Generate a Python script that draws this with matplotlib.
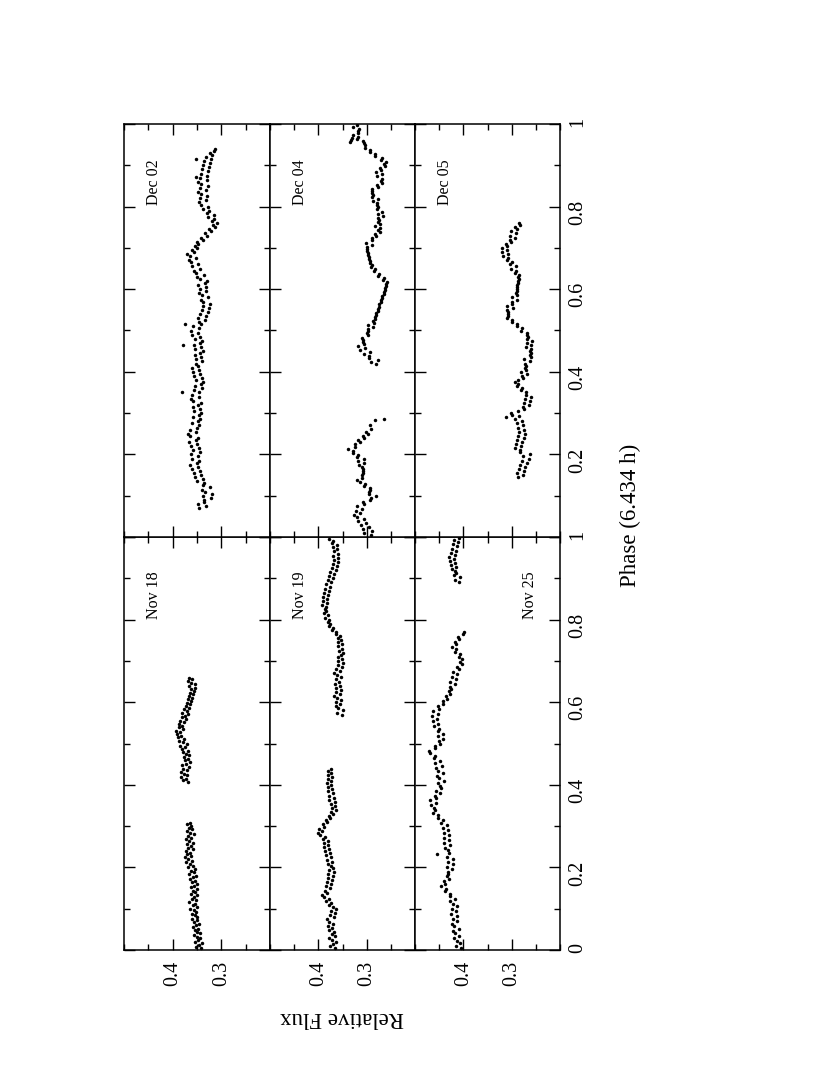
import matplotlib
matplotlib.use("Agg")
import matplotlib.pyplot as plt
from matplotlib.ticker import FixedLocator, MultipleLocator

plt.rcParams['font.family'] = ['Liberation Serif', 'DejaVu Serif']

# (phase, relative flux)
nov18 = [(0.004, .341), (0.008, .352), (0.012, .345), (0.016, .339), (0.020, .355), (0.024, .348), (0.028, .343),
         (0.032, .351), (0.036, .357), (0.040, .344), (0.044, .350), (0.048, .355), (0.052, .347), (0.056, .358),
         (0.060, .352), (0.064, .345), (0.068, .356), (0.072, .351), (0.076, .360), (0.080, .349), (0.084, .354),
         (0.088, .361), (0.092, .352), (0.096, .357), (0.100, .364), (0.104, .350), (0.108, .359), (0.112, .355),
         (0.116, .366), (0.120, .353), (0.124, .360), (0.128, .356), (0.132, .349), (0.136, .362), (0.140, .354),
         (0.144, .358), (0.148, .351), (0.152, .363), (0.156, .357), (0.160, .350), (0.164, .361), (0.168, .355),
         (0.172, .365), (0.176, .358), (0.180, .352), (0.184, .367), (0.188, .356), (0.192, .362), (0.196, .354),
         (0.200, .369), (0.204, .358), (0.208, .364), (0.212, .372), (0.216, .361), (0.220, .368), (0.224, .375),
         (0.228, .362), (0.232, .370), (0.236, .364), (0.240, .373), (0.244, .359), (0.248, .368), (0.252, .363),
         (0.256, .371), (0.260, .358), (0.264, .366), (0.268, .373), (0.272, .362), (0.276, .369), (0.280, .357),
         (0.284, .365), (0.288, .371), (0.292, .360), (0.296, .367), (0.300, .362), (0.304, .370), (0.308, .364),
         (0.407, .368), (0.411, .379), (0.415, .372), (0.419, .382), (0.423, .370), (0.427, .376), (0.431, .383),
         (0.435, .371), (0.439, .378), (0.443, .367), (0.447, .380), (0.451, .373), (0.455, .365), (0.459, .374),
         (0.463, .369), (0.467, .377), (0.471, .366), (0.475, .373), (0.479, .379), (0.483, .368), (0.487, .381),
         (0.491, .374), (0.495, .384), (0.499, .371), (0.503, .379), (0.507, .386), (0.511, .377), (0.515, .389),
         (0.519, .382), (0.523, .391), (0.527, .385), (0.531, .393), (0.535, .379), (0.539, .388), (0.543, .381),
         (0.547, .386), (0.551, .376), (0.555, .384), (0.559, .372), (0.563, .381), (0.567, .375), (0.571, .369),
         (0.575, .380), (0.579, .370), (0.583, .377), (0.587, .366), (0.591, .373), (0.595, .364), (0.599, .371),
         (0.603, .362), (0.607, .369), (0.611, .360), (0.615, .367), (0.619, .358), (0.623, .365), (0.627, .356),
         (0.631, .363), (0.635, .355), (0.639, .366), (0.643, .354), (0.647, .362), (0.651, .368), (0.655, .360),
         (0.659, .366)]

nov19 = [(0.004, .365), (0.009, .375), (0.014, .369), (0.019, .363), (0.024, .372), (0.029, .377), (0.034, .366),
         (0.039, .371), (0.044, .368), (0.049, .378), (0.054, .372), (0.059, .381), (0.064, .370), (0.069, .377),
         (0.074, .383), (0.079, .368), (0.084, .375), (0.089, .366), (0.094, .373), (0.099, .364), (0.104, .370),
         (0.109, .377), (0.114, .373), (0.119, .384), (0.124, .378), (0.129, .388), (0.134, .392), (0.139, .383),
         (0.144, .387), (0.149, .376), (0.154, .385), (0.159, .374), (0.164, .382), (0.169, .372), (0.174, .380),
         (0.179, .370), (0.184, .379), (0.189, .368), (0.194, .377), (0.199, .369), (0.204, .374), (0.209, .381),
         (0.214, .371), (0.219, .383), (0.224, .374), (0.229, .385), (0.234, .376), (0.239, .386), (0.244, .377),
         (0.249, .388), (0.254, .379), (0.259, .389), (0.264, .380), (0.269, .390), (0.274, .386), (0.279, .397),
         (0.284, .400), (0.289, .392), (0.294, .399), (0.299, .389), (0.304, .391), (0.309, .382), (0.314, .385),
         (0.319, .376), (0.324, .378), (0.329, .369), (0.334, .373), (0.339, .364), (0.344, .372), (0.349, .365),
         (0.354, .374), (0.359, .366), (0.364, .377), (0.369, .368), (0.374, .378), (0.379, .370), (0.384, .380),
         (0.389, .371), (0.394, .381), (0.399, .373), (0.404, .382), (0.409, .374), (0.414, .381), (0.419, .372),
         (0.424, .380), (0.429, .373), (0.434, .381), (0.439, .374),
         (0.570, .352), (0.575, .361), (0.580, .350), (0.585, .359), (0.590, .364), (0.595, .355), (0.600, .363),
         (0.605, .353), (0.610, .362), (0.615, .367), (0.620, .356), (0.625, .364), (0.630, .354), (0.635, .363),
         (0.640, .356), (0.645, .366), (0.650, .357), (0.655, .364), (0.660, .353), (0.665, .362), (0.670, .367),
         (0.675, .356), (0.680, .363), (0.685, .352), (0.690, .360), (0.695, .350), (0.700, .359), (0.705, .351),
         (0.710, .360), (0.715, .353), (0.720, .349), (0.725, .358), (0.730, .351), (0.735, .359), (0.740, .352),
         (0.745, .360), (0.750, .353), (0.755, .359), (0.760, .356), (0.765, .364), (0.770, .363), (0.775, .371),
         (0.780, .369), (0.785, .378), (0.790, .375), (0.795, .379), (0.800, .377), (0.805, .386), (0.810, .379),
         (0.815, .388), (0.820, .385), (0.825, .387), (0.830, .384), (0.835, .393), (0.840, .383), (0.845, .391),
         (0.850, .382), (0.855, .390), (0.860, .380), (0.865, .388), (0.870, .378), (0.875, .386), (0.880, .376),
         (0.885, .384), (0.890, .373), (0.895, .381), (0.900, .370), (0.905, .378), (0.910, .367), (0.915, .375),
         (0.920, .364), (0.925, .372), (0.930, .362), (0.935, .370), (0.940, .359), (0.945, .368), (0.950, .360),
         (0.955, .369), (0.960, .359), (0.965, .368), (0.970, .361), (0.975, .370), (0.980, .362), (0.985, .372),
         (0.990, .369), (0.995, .377)]

nov25 = [(0.004, .405), (0.010, .416), (0.016, .406), (0.022, .414), (0.028, .419), (0.034, .408), (0.040, .417),
         (0.046, .421), (0.052, .410), (0.058, .419), (0.064, .424), (0.070, .413), (0.076, .422), (0.082, .414),
         (0.088, .425), (0.094, .415), (0.100, .423), (0.106, .413), (0.112, .422), (0.118, .427), (0.124, .418),
         (0.130, .428), (0.136, .427), (0.142, .438), (0.148, .436), (0.154, .446), (0.160, .438), (0.166, .440),
         (0.172, .430), (0.178, .433), (0.184, .431), (0.190, .432), (0.196, .423), (0.202, .433), (0.208, .421),
         (0.214, .431), (0.220, .422), (0.226, .433), (0.232, .455), (0.236, .429), (0.242, .431), (0.248, .437),
         (0.254, .427), (0.260, .439), (0.266, .429), (0.272, .440), (0.278, .430), (0.284, .441), (0.290, .432),
         (0.296, .443), (0.302, .434), (0.308, .446), (0.314, .443), (0.320, .453), (0.326, .452), (0.332, .462),
         (0.338, .459), (0.344, .461), (0.350, .466), (0.356, .457), (0.362, .468), (0.368, .456), (0.374, .458),
         (0.380, .448), (0.386, .457), (0.392, .446), (0.398, .449), (0.404, .453), (0.410, .441), (0.416, .450),
         (0.422, .454), (0.428, .443), (0.434, .453), (0.440, .456), (0.446, .445), (0.452, .458), (0.458, .448),
         (0.464, .461), (0.470, .458), (0.476, .468), (0.482, .471), (0.488, .459), (0.494, .459), (0.500, .449),
         (0.506, .451), (0.512, .442), (0.518, .452), (0.524, .443), (0.530, .453), (0.536, .451), (0.542, .461),
         (0.548, .452), (0.554, .463), (0.560, .454), (0.566, .464), (0.572, .453), (0.578, .462), (0.584, .451),
         (0.590, .453), (0.596, .442), (0.602, .443), (0.608, .433), (0.614, .436), (0.620, .427), (0.626, .430),
         (0.632, .426), (0.638, .427), (0.644, .418), (0.650, .427), (0.656, .416), (0.662, .424), (0.668, .413),
         (0.674, .421), (0.680, .410), (0.686, .413), (0.692, .403), (0.698, .407), (0.704, .402), (0.710, .410),
         (0.716, .407), (0.722, .418), (0.728, .416), (0.734, .424), (0.740, .415), (0.746, .417), (0.752, .409),
         (0.758, .412), (0.764, .400), (0.770, .398),
         (0.892, .408), (0.897, .417), (0.902, .406), (0.907, .419), (0.912, .416), (0.917, .418), (0.922, .424),
         (0.927, .415), (0.932, .426), (0.937, .417), (0.942, .428), (0.947, .419), (0.952, .429), (0.957, .417),
         (0.962, .426), (0.967, .415), (0.972, .424), (0.977, .413), (0.982, .422), (0.987, .411), (0.992, .420),
         (0.997, .410)]

dec02 = [(0.070, .345), (0.075, .332), (0.080, .347), (0.085, .335), (0.090, .336), (0.095, .322), (0.100, .337),
         (0.105, .320), (0.110, .334), (0.115, .340), (0.120, .323), (0.125, .338), (0.130, .335), (0.135, .349),
         (0.140, .337), (0.145, .354), (0.150, .342), (0.155, .357), (0.160, .344), (0.165, .360), (0.170, .347),
         (0.175, .364), (0.180, .350), (0.185, .345), (0.190, .361), (0.195, .348), (0.200, .363), (0.205, .343),
         (0.210, .359), (0.215, .346), (0.220, .362), (0.225, .349), (0.230, .366), (0.235, .352), (0.240, .347),
         (0.245, .364), (0.250, .368), (0.255, .353), (0.260, .365), (0.265, .350), (0.270, .345), (0.275, .361),
         (0.280, .348), (0.285, .343), (0.290, .359), (0.295, .346), (0.300, .341), (0.305, .357), (0.310, .344),
         (0.315, .359), (0.320, .347), (0.325, .342), (0.330, .358), (0.335, .363), (0.340, .346), (0.345, .360),
         (0.350, .380), (0.352, .345), (0.355, .357), (0.360, .340), (0.365, .354), (0.370, .342), (0.375, .337),
         (0.380, .352), (0.385, .340), (0.390, .356), (0.395, .343), (0.400, .359), (0.405, .346), (0.410, .361),
         (0.415, .348), (0.420, .352), (0.425, .339), (0.430, .353), (0.435, .341), (0.440, .355), (0.445, .343),
         (0.450, .338), (0.455, .354), (0.460, .342), (0.464, .378), (0.465, .357), (0.470, .344), (0.475, .340),
         (0.480, .355), (0.485, .343), (0.490, .360), (0.495, .348), (0.500, .362), (0.505, .345), (0.510, .358),
         (0.516, .375), (0.515, .342), (0.520, .346), (0.525, .334), (0.530, .347), (0.535, .331), (0.540, .343),
         (0.545, .327), (0.550, .340), (0.555, .326), (0.560, .338), (0.565, .324), (0.570, .337), (0.575, .341),
         (0.580, .327), (0.585, .340), (0.590, .345), (0.595, .331), (0.600, .344), (0.605, .332), (0.610, .347),
         (0.615, .334), (0.620, .330), (0.625, .344), (0.630, .349), (0.635, .335), (0.640, .352), (0.645, .356),
         (0.650, .343), (0.655, .360), (0.660, .347), (0.665, .363), (0.670, .367), (0.675, .352), (0.680, .365),
         (0.685, .370), (0.690, .356), (0.695, .361), (0.700, .350), (0.705, .354), (0.710, .348), (0.715, .351),
         (0.720, .338), (0.725, .342), (0.730, .329), (0.735, .333), (0.740, .322), (0.745, .326), (0.750, .314),
         (0.755, .318), (0.760, .308), (0.765, .319), (0.770, .315), (0.775, .327), (0.780, .316), (0.785, .330),
         (0.790, .326), (0.795, .338), (0.800, .327), (0.805, .341), (0.810, .346), (0.815, .331), (0.820, .343),
         (0.825, .329), (0.830, .342), (0.835, .348), (0.840, .332), (0.845, .344), (0.850, .328), (0.855, .341),
         (0.860, .347), (0.865, .330), (0.870, .343), (0.872, .352), (0.875, .329), (0.880, .341), (0.885, .327),
         (0.890, .339), (0.895, .325), (0.900, .337), (0.905, .323), (0.910, .335), (0.915, .352), (0.915, .321),
         (0.920, .332), (0.925, .319), (0.930, .324), (0.935, .315), (0.940, .312)]

dec04 = [(0.004, .292), (0.009, .305), (0.014, .290), (0.019, .308), (0.024, .296), (0.029, .312), (0.034, .301),
         (0.039, .317), (0.044, .305), (0.049, .321), (0.054, .326), (0.059, .313), (0.064, .323), (0.069, .309),
         (0.074, .320), (0.079, .306), (0.084, .307), (0.089, .293), (0.094, .291), (0.099, .281), (0.104, .295),
         (0.109, .295), (0.114, .294), (0.119, .293), (0.124, .305), (0.129, .303), (0.134, .314), (0.139, .319),
         (0.144, .309), (0.149, .310), (0.154, .308), (0.159, .308), (0.164, .307), (0.169, .309), (0.174, .316),
         (0.179, .305), (0.184, .318), (0.189, .306), (0.194, .319), (0.199, .317), (0.204, .329), (0.209, .328),
         (0.214, .338), (0.219, .325), (0.224, .325), (0.229, .314), (0.234, .317), (0.239, .306), (0.244, .308),
         (0.249, .298), (0.254, .301), (0.262, .291), (0.270, .293), (0.283, .283), (0.285, .264),
         (0.418, .280), (0.423, .291), (0.428, .276), (0.433, .295), (0.438, .295), (0.443, .306), (0.448, .293),
         (0.453, .313), (0.458, .303), (0.463, .317), (0.468, .306), (0.473, .307), (0.478, .308), (0.483, .310),
         (0.488, .298), (0.493, .300), (0.498, .298), (0.503, .297), (0.508, .287), (0.513, .297), (0.518, .284),
         (0.523, .286), (0.528, .283), (0.533, .283), (0.538, .280), (0.543, .280), (0.548, .277), (0.553, .277),
         (0.558, .274), (0.563, .274), (0.568, .271), (0.573, .271), (0.578, .268), (0.583, .268), (0.588, .265),
         (0.593, .265), (0.598, .262), (0.603, .262), (0.608, .259), (0.613, .260), (0.618, .258), (0.623, .267),
         (0.628, .265), (0.633, .276), (0.638, .274), (0.643, .284), (0.648, .282), (0.653, .292), (0.658, .290),
         (0.663, .293), (0.668, .293), (0.673, .296), (0.678, .296), (0.683, .298), (0.688, .297), (0.693, .299),
         (0.698, .299), (0.703, .300), (0.708, .290), (0.713, .301), (0.718, .288), (0.723, .290), (0.728, .280),
         (0.733, .282), (0.738, .273), (0.743, .276), (0.748, .273), (0.753, .283), (0.758, .273), (0.763, .276),
         (0.768, .274), (0.773, .276), (0.778, .267), (0.783, .277), (0.788, .268), (0.793, .278), (0.798, .276),
         (0.803, .279), (0.808, .278), (0.813, .287), (0.818, .277), (0.823, .289), (0.828, .287), (0.833, .290),
         (0.838, .288), (0.843, .288), (0.848, .277), (0.853, .278), (0.858, .268), (0.863, .270), (0.868, .268),
         (0.873, .278), (0.878, .269), (0.883, .280), (0.888, .270), (0.893, .272), (0.898, .262), (0.903, .265),
         (0.908, .261), (0.913, .271), (0.918, .269), (0.923, .282), (0.928, .283), (0.933, .294), (0.938, .293),
         (0.943, .304), (0.948, .304), (0.953, .306), (0.957, .335), (0.958, .307), (0.962, .333), (0.963, .319),
         (0.965, .331), (0.968, .318), (0.973, .329), (0.978, .317), (0.983, .318), (0.988, .316), (0.993, .328),
         (0.998, .319)]

dec05 = [(0.145, .287), (0.150, .277), (0.155, .289), (0.160, .275), (0.165, .285), (0.170, .272), (0.175, .282),
         (0.180, .269), (0.185, .279), (0.190, .265), (0.195, .276), (0.200, .263), (0.205, .282), (0.210, .282),
         (0.215, .293), (0.220, .280), (0.225, .291), (0.230, .278), (0.235, .289), (0.240, .275), (0.245, .286),
         (0.250, .273), (0.255, .284), (0.260, .274), (0.265, .287), (0.270, .277), (0.275, .289), (0.280, .279),
         (0.285, .293), (0.290, .312), (0.292, .284), (0.295, .299), (0.300, .302), (0.305, .286), (0.310, .275),
         (0.315, .276), (0.320, .265), (0.325, .275), (0.330, .263), (0.335, .273), (0.340, .261), (0.345, .271),
         (0.350, .270), (0.355, .280), (0.360, .279), (0.365, .289), (0.370, .287), (0.375, .294), (0.380, .286),
         (0.385, .276), (0.390, .278), (0.395, .268), (0.400, .280), (0.405, .270), (0.410, .272), (0.415, .271),
         (0.420, .273), (0.425, .263), (0.430, .274), (0.435, .261), (0.440, .263), (0.445, .261), (0.450, .262),
         (0.455, .260), (0.460, .270), (0.465, .259), (0.470, .269), (0.475, .258), (0.480, .268), (0.485, .266),
         (0.490, .269), (0.495, .269), (0.500, .280), (0.505, .279), (0.510, .290), (0.515, .289), (0.520, .300),
         (0.525, .299), (0.530, .309), (0.535, .307), (0.540, .308), (0.545, .308), (0.550, .309), (0.555, .298),
         (0.560, .310), (0.565, .299), (0.570, .300), (0.575, .290), (0.580, .300), (0.585, .289), (0.590, .291),
         (0.595, .290), (0.600, .290), (0.605, .288), (0.610, .288), (0.615, .286), (0.620, .287), (0.625, .285),
         (0.630, .286), (0.635, .284), (0.640, .293), (0.645, .291), (0.650, .301), (0.655, .292), (0.660, .303),
         (0.665, .300), (0.670, .309), (0.675, .307), (0.680, .317), (0.685, .308), (0.690, .319), (0.695, .310),
         (0.700, .321), (0.705, .309), (0.710, .311), (0.715, .301), (0.720, .304), (0.725, .294), (0.730, .303),
         (0.735, .292), (0.740, .301), (0.745, .290), (0.750, .293), (0.755, .283), (0.760, .284)]

# image column, half (0 = lower, 1 = upper), label, label position in flux
panels = [(nov18, 0, 0, 'Nov 18', 0.438), (nov19, 1, 0, 'Nov 19', 0.438), (nov25, 2, 0, 'Nov 25', 0.262),
          (dec02, 0, 1, 'Dec 02', 0.438), (dec04, 1, 1, 'Dec 04', 0.438), (dec05, 2, 1, 'Dec 05', 0.438)]

phase_ticks = [0, 0.2, 0.4, 0.6, 0.8, 1.0]
phase_labels = ['0', '0.2', '0.4', '0.6', '0.8', '1']
flux_ticks = [0.4, 0.3]

fig = plt.figure(figsize=(8.3, 10.75), dpi=100)
W, H = 830, 1075
col_x = [124, 270, 415]
col_w = [146, 145, 145]

for data, col, half, label, lx in panels:
    top = 124 if half == 1 else 537
    ax = fig.add_axes([col_x[col] / W, 1 - (top + 413) / H, col_w[col] / W, 413 / H])
    ph = [p for p, f in data]
    fl = [f for p, f in data]
    # page is turned: flux runs across, phase runs up
    ax.plot(fl, ph, 'o', color='black', ms=2.5, mew=0)
    ax.set_xlim(0.5, 0.2)
    ax.set_ylim(0, 1)
    ax.xaxis.set_major_locator(FixedLocator(flux_ticks))
    ax.xaxis.set_minor_locator(MultipleLocator(0.05))
    ax.set_yticks(phase_ticks)
    ax.set_yticklabels(['' if (half == 1 and t == 0) else s for t, s in zip(phase_ticks, phase_labels)])
    ax.yaxis.set_minor_locator(MultipleLocator(0.1))
    ax.tick_params(which='both', direction='in', top=True, bottom=True, left=True, right=True, width=1)
    ax.tick_params(which='major', length=8)
    ax.tick_params(which='minor', length=4.5)
    ax.tick_params(axis='x', labelbottom=(half == 0), labelrotation=90, labelsize=14.5, pad=8)
    ax.tick_params(axis='y', labelleft=False, labelright=(col == 2), labelrotation=90, labelsize=14.5, pad=6)
    for s in ax.spines.values():
        s.set_linewidth(1.1)
    ax.text(lx, 0.86, label, rotation=90, ha='center', va='center', fontsize=11.5)

fig.text(630 / W, 1 - 515 / H, 'Phase (6.434 h)', rotation=90, ha='center', va='center', fontsize=16.5)
fig.text(342 / W, 1 - 1017 / H, 'Relative Flux', rotation=180, ha='center', va='center', fontsize=16.5)

fig.savefig('out.png', dpi=100)
